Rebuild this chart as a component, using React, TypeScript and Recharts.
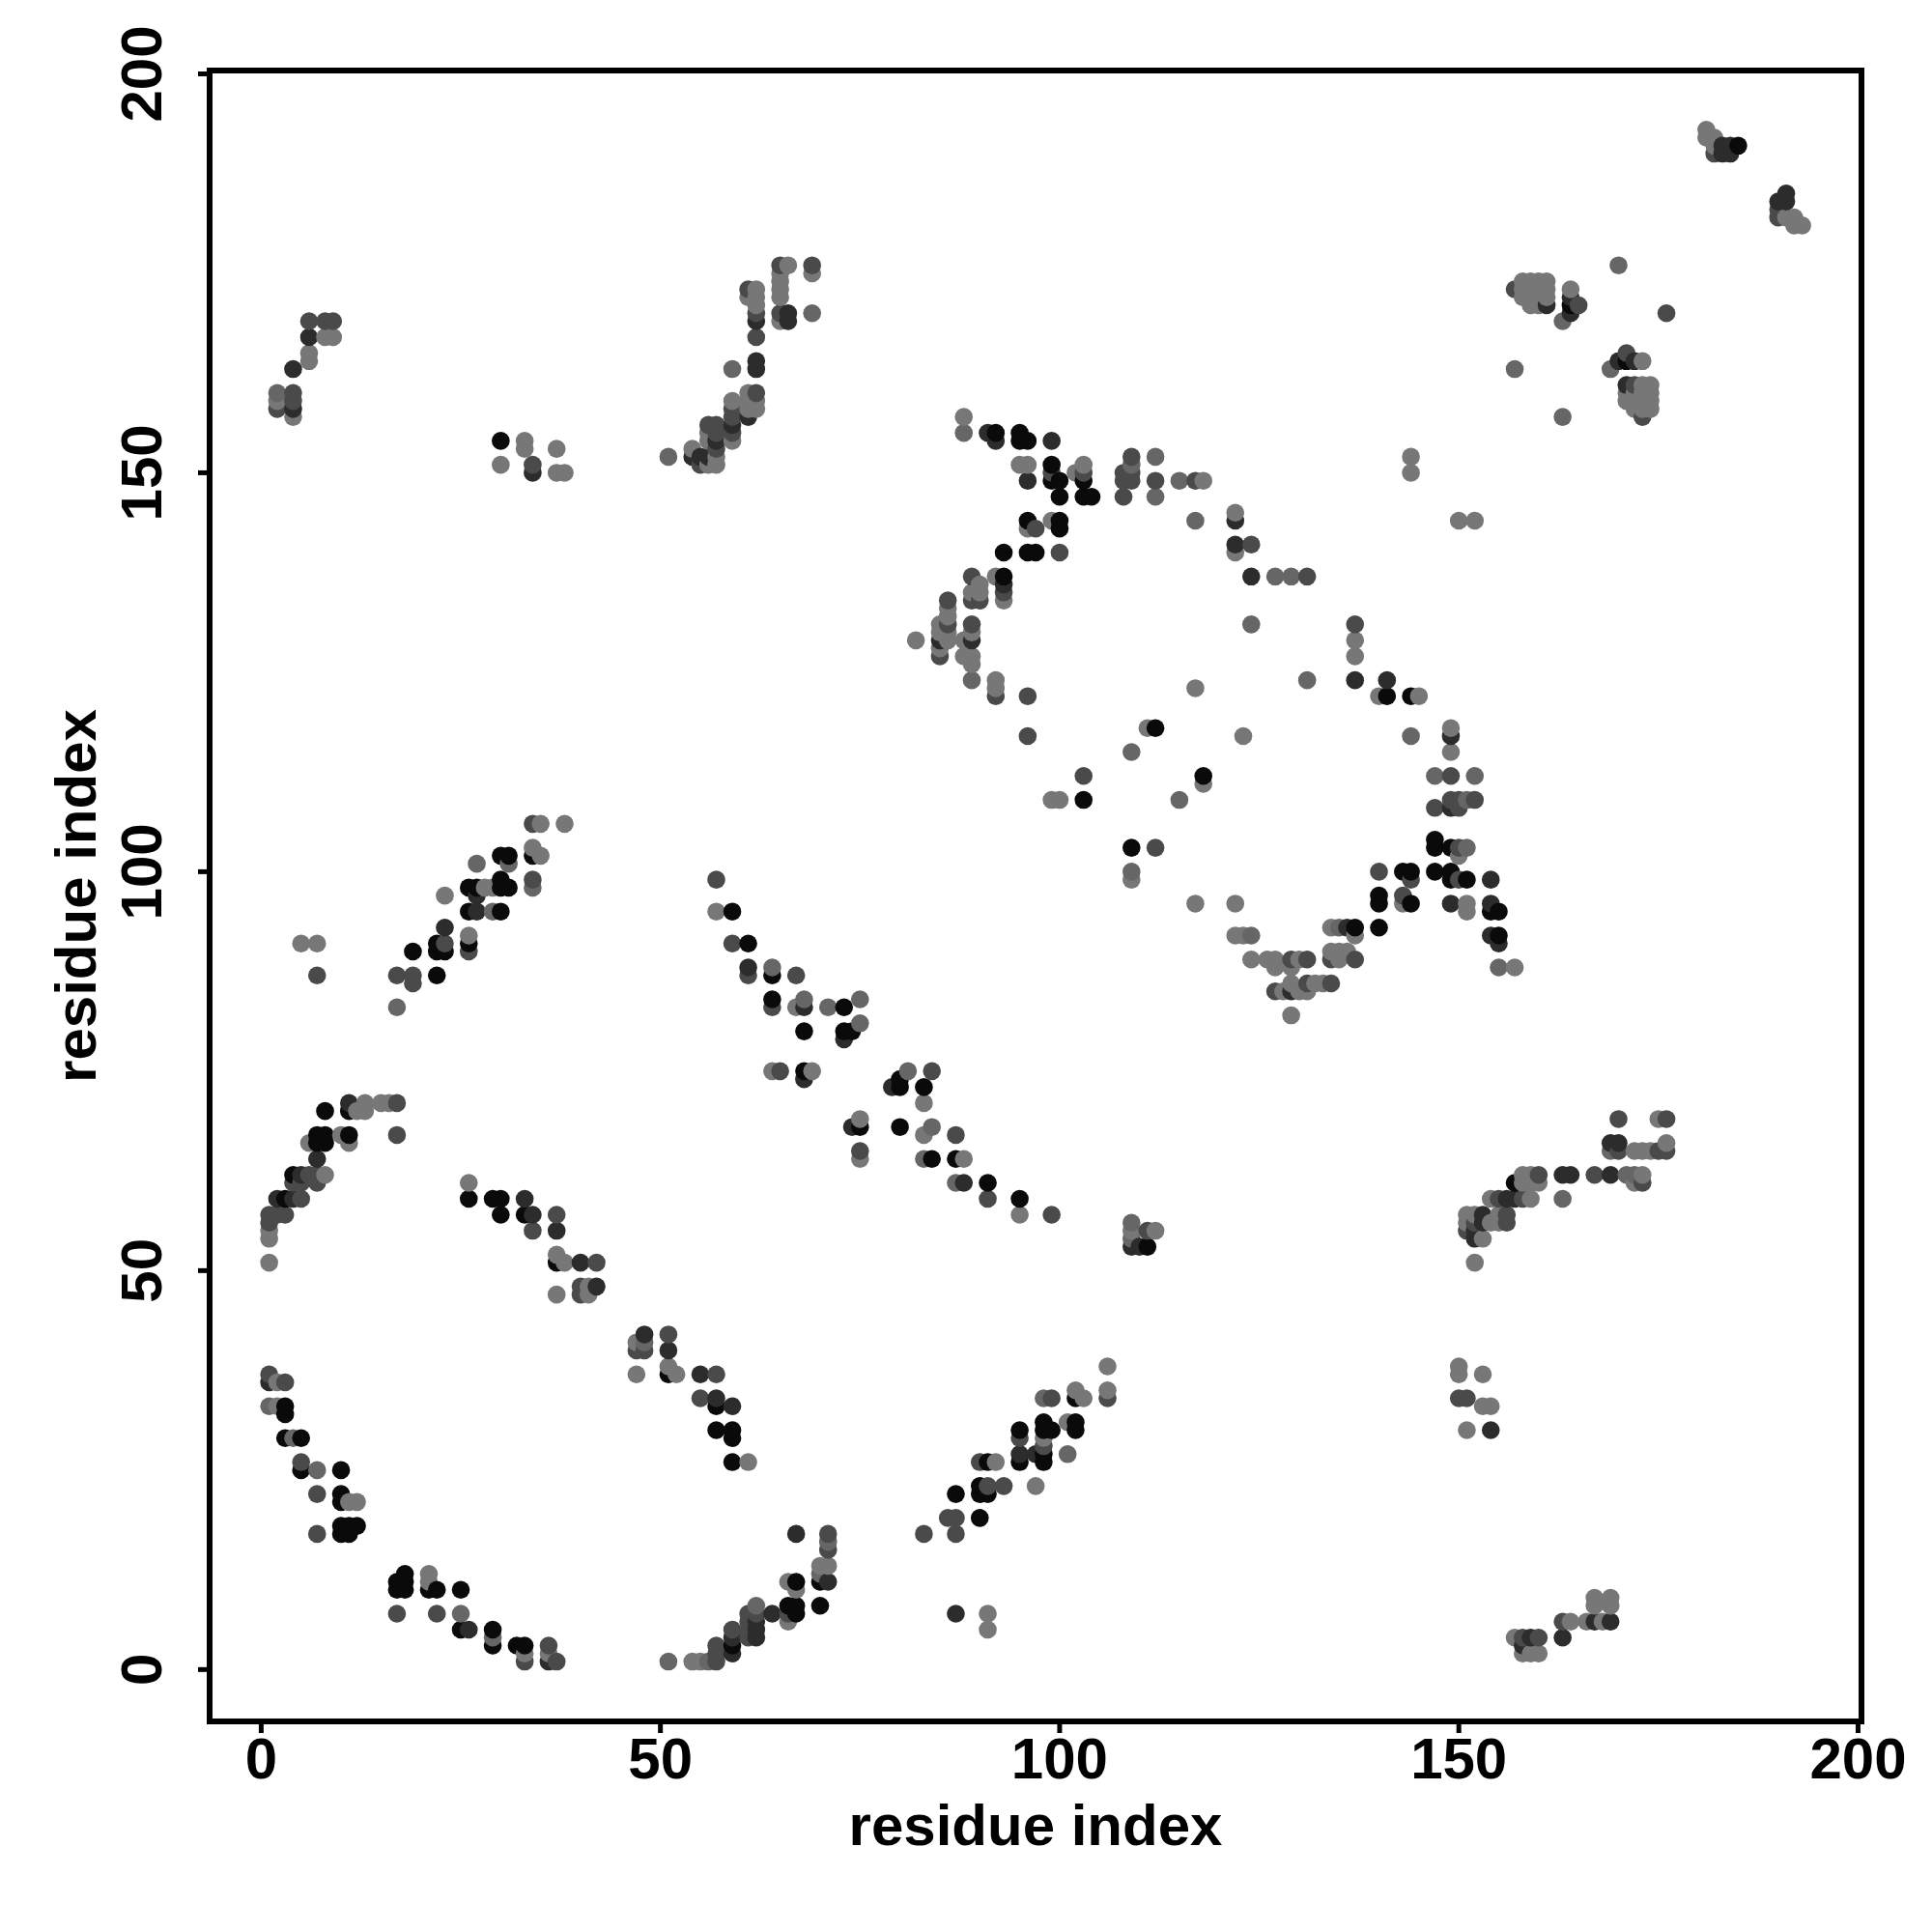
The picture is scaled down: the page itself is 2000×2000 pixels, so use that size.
import { ScatterChart, Scatter, XAxis, YAxis, ReferenceArea } from 'recharts';

type Pair = [number, number];

const tickValues = [0, 50, 100, 150, 200];
const axisTitle = 'residue index';
const xDomain: Pair = [-6.46, 200.43];
const yDomain: Pair = [-6.5, 200.42];

const blackContacts: Pair[] = [
  [4,62],[7,66],[8,66],[7,67],[8,67],[11,67],[8,70],[11,70],[3,59],[26,59],[29,59],[30,59],[30,57],[33,57],[37,51],
  [3,33],[3,32],[3,29],[5,29],[5,25],[10,25],[10,22],[10,21],[10,17],[11,17],[10,18],[11,18],[12,18],
  [17,10],[18,10],[17,11],[18,11],[18,12],[21,10],[22,10],[25,10],[25,5],[29,5],[29,3],[33,3],[32,3],
  [51,37],[57,33],[57,30],[59,30],[59,29],[59,26],[67,11],[70,11],[70,8],[66,8],[67,8],[67,7],[59,3],
  [90,19],[87,22],[90,23],[90,22],[91,22],[91,26],[95,26],[95,30],[98,26],[98,27],[98,30],[98,31],[99,30],[102,31],[102,30],[102,34],
  [22,87],[19,90],[22,90],[23,90],[22,91],[26,91],[26,95],[30,95],[26,98],[27,98],[30,98],[30,99],[31,98],[30,102],[31,102],[34,102],
  [59,95],[61,91],[64,87],[64,84],[73,83],[74,80],[73,80],[68,80],[68,75],[80,74],[80,73],[83,73],[75,68],[80,68],[84,64],[87,64],[91,61],[95,59],
  [109,103],[137,93],[140,93],[140,97],[140,96],[143,100],[144,100],[144,96],[147,100],[149,100],[149,99],[151,99],[154,95],[155,95],[155,92],[147,104],[147,103],[149,103],
  [92,155],[95,155],[95,154],[96,154],[99,151],[99,149],[100,149],[100,147],[103,149],[103,147],[104,147],[96,144],[100,144],[100,143],[93,140],[96,140],[97,140],[93,137],[112,118],
  [103,109],[118,112],[141,122],[144,122],[30,154],[111,53],[185,191],[164,171],[157,61],[171,164],
];

const darkContacts: Pair[] = [
  [5,62],[2,59],[4,59],[7,64],[11,71],[33,59],[34,57],[37,55],[40,51],[42,48],[1,36],
  [26,5],[62,5],[59,4],[62,4],[59,2],[36,1],[48,42],[51,40],[55,37],[57,34],[59,33],[64,7],[71,11],[95,27],[97,27],[62,6],
  [23,93],[27,95],[27,97],[61,88],[68,74],[73,79],[79,73],[74,68],[88,61],[68,83],[154,99],[149,96],[154,96],[154,92],[155,91],[136,93],[129,85],[149,117],
  [124,137],[122,144],[122,141],[91,155],[92,154],[99,154],[96,149],[93,136],[85,129],[89,129],[164,172],[164,170],[161,171],[170,164],[172,164],[171,161],
  [153,57],[153,56],[152,55],[152,54],[156,59],[157,59],[163,62],[164,62],[169,62],[169,66],[170,66],
  [67,17],[87,7],[149,108],[137,124],[141,124],[154,30],[163,4],[159,4],[158,3],[167,6],[169,6],[6,167],[4,163],
  [183,191],[183,190],[184,191],[184,190],[191,185],[191,184],[190,184],[110,53],[109,53],[62,163],[62,164],[62,169],[66,170],[66,169],[61,157],
  [54,152],[55,152],[56,152],[57,154],[59,156],[34,150],[4,158],
];

const midContacts: Pair[] = [
  [6,62],[7,62],[4,61],[5,61],[7,61],[1,57],[2,57],[3,57],[1,56],[5,59],[17,67],[17,71],[37,57],[34,55],[42,51],[40,48],[40,47],[1,37],[3,36],[5,26],[7,22],[7,17],
  [17,7],[22,7],[33,1],[36,3],[37,1],[47,40],[48,40],[51,42],[57,37],[55,34],[71,17],[71,15],[61,7],[62,7],[61,6],[61,5],[59,5],[57,3],[57,2],[57,1],[61,4],[66,7],
  [83,17],[87,17],[86,19],[87,19],[91,23],[93,23],[90,26],[99,34],[106,34],[95,29],[98,28],[17,87],[19,87],[19,86],[23,91],[26,90],[34,99],[34,106],[7,87],
  [57,99],[59,91],[61,87],[67,87],[64,83],[65,75],[84,75],[87,67],[75,65],[91,59],[99,57],[112,103],[140,100],[144,99],[143,97],[147,108],[149,109],[150,109],[152,109],[150,108],[149,112],[150,103],[150,99],
  [137,89],[134,89],[131,89],[131,86],[127,85],[129,89],[134,86],[89,137],[97,143],[108,147],[108,150],[108,149],[109,152],[109,150],[109,149],[112,149],[117,149],[124,141],[131,137],
  [86,134],[86,131],[85,127],[89,134],[90,134],[89,131],[93,135],[92,122],[96,122],[96,117],[99,150],[103,150],[100,140],[173,157],[137,131],
  [2,158],[4,160],[4,159],[6,169],[8,169],[9,169],[34,151],[56,156],[57,156],[57,155],[57,153],[59,158],[59,157],[59,155],[62,160],[62,170],[61,173],[62,167],[65,176],[65,170],[69,176],
  [176,170],[157,173],[165,171],[171,165],[172,161],[175,65],[176,65],[170,69],[176,69],[158,59],[160,62],[173,61],[167,62],[170,65],[156,57],[156,56],[151,55],[152,56],[155,59],
  [182,190],[190,183],[190,182],[163,6],[158,4],[160,4],[151,34],[150,34],[103,112],[55,151],[111,55],
];

const greyContacts: Pair[] = [
  [1,33],[4,29],[7,25],[25,7],[29,4],[48,41],[71,16],[70,12],[62,8],[51,1],[56,1],[98,34],[101,27],[27,101],[31,101],[34,98],[29,95],[17,83],
  [64,88],[68,84],[71,83],[75,84],[75,81],[81,75],[84,68],[83,64],[87,61],[109,100],[124,92],[135,93],[88,155],[109,151],[112,152],[112,147],[115,149],[117,144],
  [127,137],[129,137],[124,131],[89,124],[131,124],[109,115],[115,109],[144,117],[147,112],[152,112],[151,109],[151,103],[155,88],[51,152],[59,163],[69,170],
  [170,176],[157,163],[163,157],[163,169],[169,163],[163,59],[171,62],[172,62],[169,65],[109,56],[109,54],[2,160],
];

const lightContacts: Pair[] = [
  [1,51],[1,54],[1,55],[6,66],[10,67],[11,66],[8,62],[12,70],[13,71],[13,70],[15,71],[16,71],[26,61],[37,52],[38,51],[41,48],[41,47],[37,47],[2,36],[2,33],[11,21],[12,21],[21,12],[21,11],[33,2],[36,2],
  [47,41],[47,37],[51,38],[52,37],[61,26],[70,13],[71,13],[66,11],[67,10],[66,6],[55,1],[54,1],[91,7],[91,5],[92,26],[98,29],[101,31],[102,35],[103,34],[106,35],[106,38],[97,23],
  [23,97],[26,92],[28,98],[29,98],[34,103],[35,102],[35,106],[38,106],[5,91],[7,91],[57,95],[67,83],[64,75],[69,75],[83,71],[75,69],[83,67],[75,64],[88,64],[95,57],
  [109,99],[122,92],[123,92],[124,89],[126,89],[127,89],[127,88],[129,88],[130,89],[128,85],[129,86],[130,85],[131,85],[132,86],[133,86],[129,82],[134,90],[135,89],[135,90],[136,90],[134,93],[137,92],
  [143,96],[151,96],[151,95],[157,88],[150,102],[149,118],[149,115],[117,96],[122,96],
  [88,157],[95,151],[96,151],[102,150],[103,151],[118,149],[96,143],[99,144],[122,145],[122,140],[92,137],[90,136],[89,135],[90,135],[93,134],[86,133],[86,132],[85,131],[85,130],[86,130],[86,129],[85,128],[82,129],
  [89,130],[88,129],[88,127],[89,127],[89,126],[92,124],[92,123],[117,123],[111,118],[123,117],[99,109],[100,109],[118,111],[137,129],[137,127],[140,122],[145,122],[144,152],[144,150],[150,144],[152,144],
  [2,159],[4,157],[6,164],[6,165],[8,167],[9,167],[30,151],[33,154],[33,153],[37,153],[37,150],[38,150],
  [54,153],[56,151],[57,151],[56,155],[56,154],[57,152],[59,159],[59,154],[61,160],[61,159],[62,159],[61,158],[62,158],[62,171],[62,172],[62,173],[61,172],[66,176],[65,175],[65,174],[65,173],[65,172],[65,169],[69,175],
  [158,174],[159,174],[160,174],[161,174],[158,173],[159,173],[160,173],[161,173],[158,172],[159,172],[160,172],[161,172],[159,171],[160,171],[164,173],[173,164],[173,161],[174,161],[171,160],[172,160],[173,160],[174,160],[171,159],[172,159],[173,159],[174,159],[172,158],[173,158],[174,158],
  [152,51],[151,57],[152,57],[151,56],[153,54],[154,56],[155,57],[155,56],[154,59],[159,59],[158,62],[159,62],[158,61],[159,61],[160,61],[173,62],[172,61],[172,65],[173,65],[174,65],[176,66],[175,69],
  [157,4],[158,2],[159,2],[160,2],[164,6],[166,6],[168,6],[167,9],[167,8],[169,9],[169,8],[150,38],[150,37],[153,37],[153,33],[154,33],[151,30],
  [181,193],[181,192],[182,192],[182,191],[191,182],[192,182],[192,181],[193,181],[109,55],[112,55],
];

const shadeGroups: [Pair[], string][] = [
  [blackContacts, '#0a0a0a'],
  [darkContacts, '#2c2c2c'],
  [midContacts, '#4a4a4a'],
  [greyContacts, '#666666'],
  [lightContacts, '#777777'],
];

// later residues sit on top of earlier ones in the reference, so sort by x then y
const contacts = shadeGroups
  .flatMap(([pairs, shade]) => pairs.map(([x, y]) => ({ x, y, shade })))
  .sort((a, b) => a.x - b.x || a.y - b.y);

const fontFamily = '"Liberation Sans", Arial, sans-serif';
const labelStyle = { fontSize: 60, fontWeight: 700, fontFamily, fill: '#000' };

function RotatedTick({ x, y, payload }: any) {
  const tx = x - 36;
  return (
    <text x={tx} y={y} transform={`rotate(-90, ${tx}, ${y})`} textAnchor="middle" {...labelStyle}>
      {payload.value}
    </text>
  );
}

function ContactDot({ cx, cy, payload }: any) {
  return <circle cx={cx} cy={cy} r={9.3} fill={payload.shade} />;
}

export default function App() {
  return (
    <div style={{ position: 'absolute', left: 0, top: 0, width: 2000, height: 2000, background: '#fff' }}>
      <ScatterChart width={2000} height={2000} margin={{ top: 73, right: 73, bottom: 0, left: 0 }}>
        <XAxis
          type="number"
          dataKey="x"
          domain={xDomain}
          ticks={tickValues}
          allowDataOverflow
          height={218}
          axisLine={false}
          tickSize={12}
          tickMargin={4}
          tickLine={{ stroke: '#000', strokeWidth: 5 }}
          tick={labelStyle}
          label={{ value: axisTitle, position: 'insideBottom', offset: 90, ...labelStyle }}
        />
        <YAxis
          type="number"
          dataKey="y"
          domain={yDomain}
          ticks={tickValues}
          allowDataOverflow
          width={217}
          axisLine={false}
          tickSize={12}
          tickLine={{ stroke: '#000', strokeWidth: 5 }}
          tick={<RotatedTick />}
          label={{ value: axisTitle, angle: -90, position: 'insideLeft', offset: 78, textAnchor: 'middle', ...labelStyle }}
        />
        <ReferenceArea
          x1={xDomain[0]}
          x2={xDomain[1]}
          y1={yDomain[0]}
          y2={yDomain[1]}
          fill="none"
          stroke="#000"
          strokeWidth={6}
          ifOverflow="visible"
        />
        <Scatter data={contacts} isAnimationActive={false} shape={<ContactDot />} />
      </ScatterChart>
    </div>
  );
}
